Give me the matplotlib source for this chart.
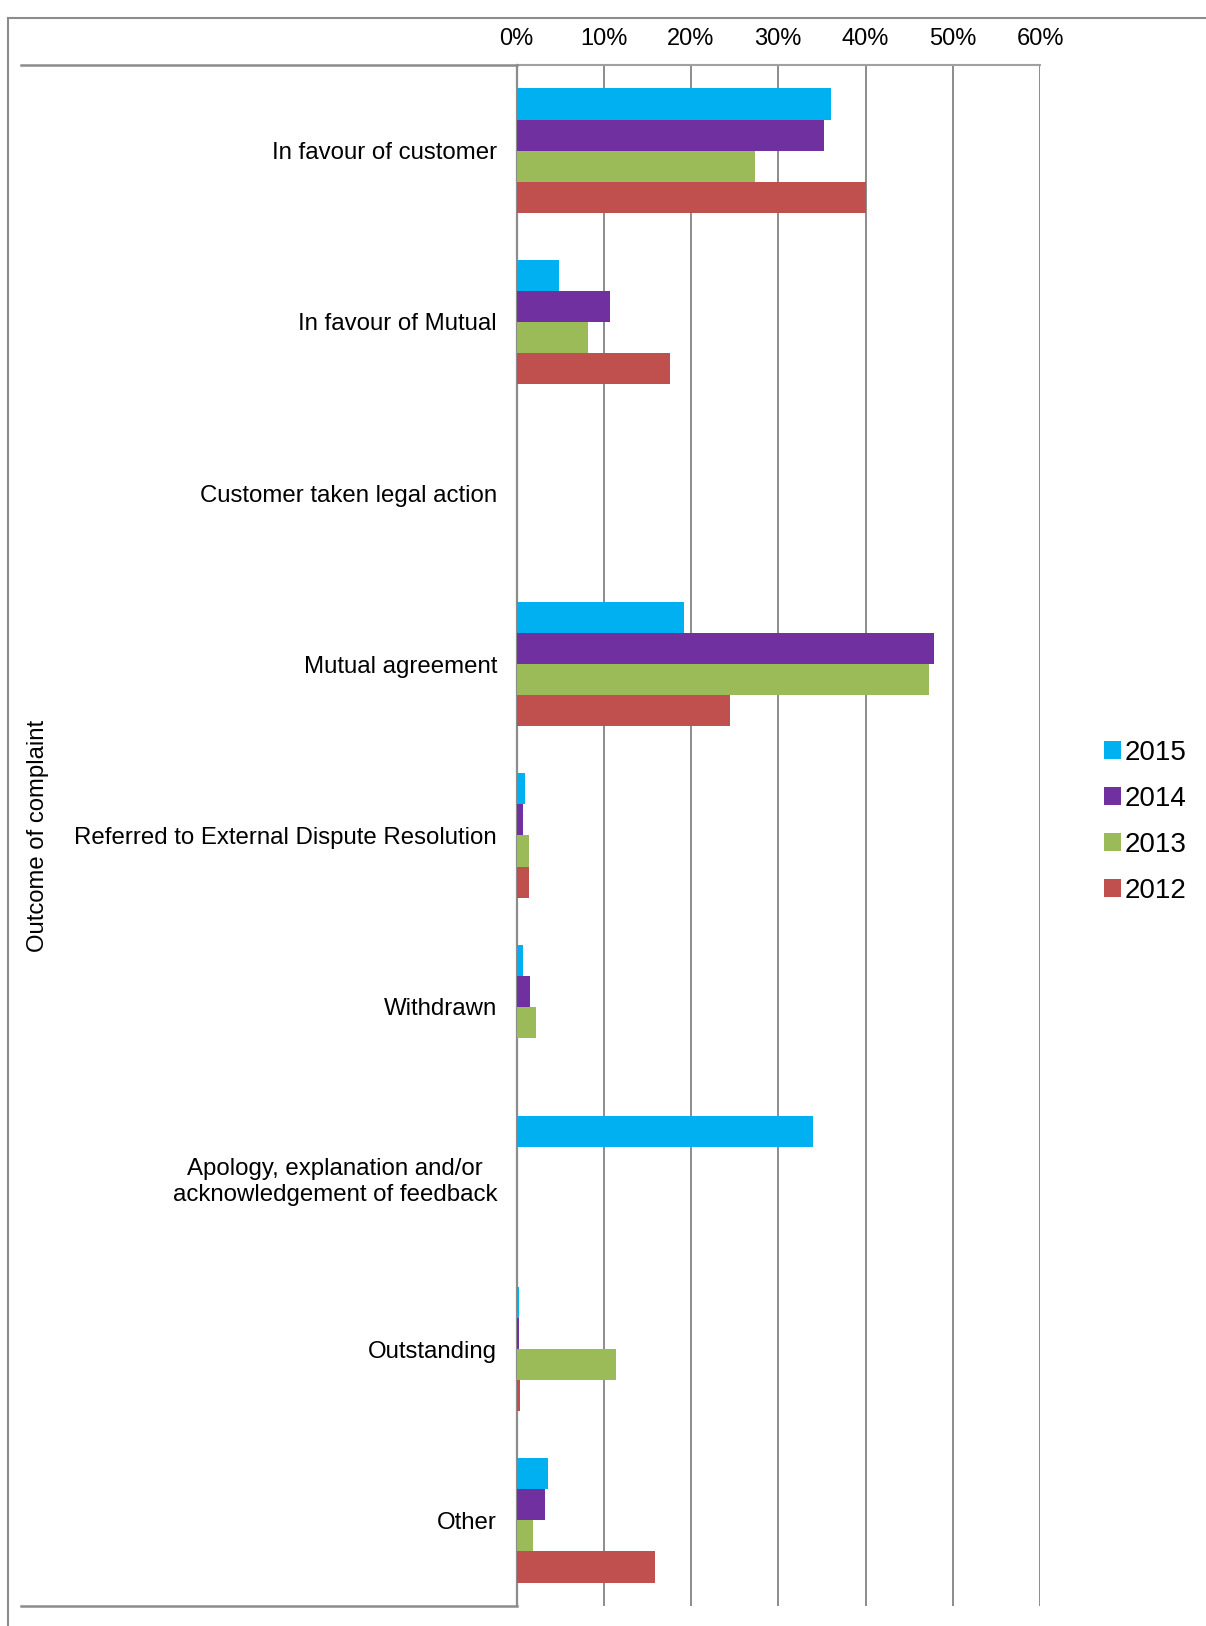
import matplotlib
matplotlib.use("Agg")
import matplotlib.pyplot as plt
from matplotlib.lines import Line2D
import numpy as np

plt.rcParams['font.family'] = ['Liberation Sans', 'DejaVu Sans']

categories = [
    "In favour of customer",
    "In favour of Mutual",
    "Customer taken legal action",
    "Mutual agreement",
    "Referred to External Dispute Resolution",
    "Withdrawn",
    "Apology, explanation and/or\nacknowledgement of feedback",
    "Outstanding",
    "Other",
]
years = ["2015", "2014", "2013", "2012"]
v2015 = [36.0, 4.9, 0.0, 19.2, 1.0, 0.7, 34.0, 0.3, 3.6]
v2014 = [35.2, 10.7, 0.0, 47.8, 0.7, 1.6, 0.0, 0.3, 3.3]
v2013 = [27.3, 8.2, 0.0, 47.3, 1.4, 2.2, 0.0, 11.4, 1.9]
v2012 = [40.0, 17.6, 0.0, 24.5, 1.4, 0.1, 0.0, 0.35, 15.9]
xticks = [0, 10, 20, 30, 40, 50, 60]
xticklabels = ["0%", "10%", "20%", "30%", "40%", "50%", "60%"]
colors = ["#00B0F0", "#7030A0", "#9BBB59", "#C0504D"]

W, H = 1206, 1626
fig = plt.figure(figsize=(W / 100, H / 100), dpi=100)
ax = fig.add_axes([516.5 / W, 1 - 1606 / H, (1040 - 516.5) / W, (1606 - 65) / H])

n = len(categories)
y = np.arange(n)
bw = 0.1817
series = [v2015, v2014, v2013, v2012]
for k, (vals, col, lab) in enumerate(zip(series, colors, years)):
    ax.barh(y + (k - 1.5) * bw, vals, height=bw, color=col, label=lab,
            edgecolor='none', zorder=3)

ax.set_xlim(0, 60)
ax.set_ylim(n - 0.5, -0.5)
ax.xaxis.tick_top()
ax.set_xticks(xticks)
ax.set_xticklabels(xticklabels, fontsize=17)
ax.tick_params(axis='x', length=0, pad=11)
ax.set_yticks(y)
ax.set_yticklabels(categories, fontsize=17.3, multialignment='center')
ax.tick_params(axis='y', length=0, pad=14)
ax.grid(axis='x', color='#8C8C8C', linewidth=1.4, zorder=0)
ax.set_axisbelow(True)

for s in ['right', 'bottom']:
    ax.spines[s].set_visible(False)
ax.spines['left'].set_color('#8C8C8C')
ax.spines['left'].set_linewidth(1.6)
ax.spines['top'].set_color('#A0A0A0')
ax.spines['top'].set_linewidth(1.5)
ax.spines['top'].set_linestyle((0, (1, 1)))

# y-axis title
fig.text(38 / W, 1 - 836 / H, "Outcome of complaint", rotation=90,
         ha='center', va='center', fontsize=17.2)

# horizontal category-axis lines outside the plot area
for yy in [65, 1606]:
    fig.add_artist(Line2D([21 / W, 516.5 / W], [1 - yy / H, 1 - yy / H],
                          color='#8C8C8C', linewidth=1.8))

# outer chart frame
fig.add_artist(Line2D([8 / W, 8 / W], [0, 1 - 18 / H], color='#8C8C8C', linewidth=1.5))
fig.add_artist(Line2D([8 / W, 1], [1 - 18 / H, 1 - 18 / H], color='#8C8C8C', linewidth=1.5))

leg = fig.legend(loc='center left', bbox_to_anchor=(1090 / W, 1 - 822 / H),
                 fontsize=20, frameon=False, handlelength=0.6, handleheight=0.6,
                 handletextpad=0.15, labelspacing=0.72, borderpad=0)

fig.savefig("out.png", dpi=100)
